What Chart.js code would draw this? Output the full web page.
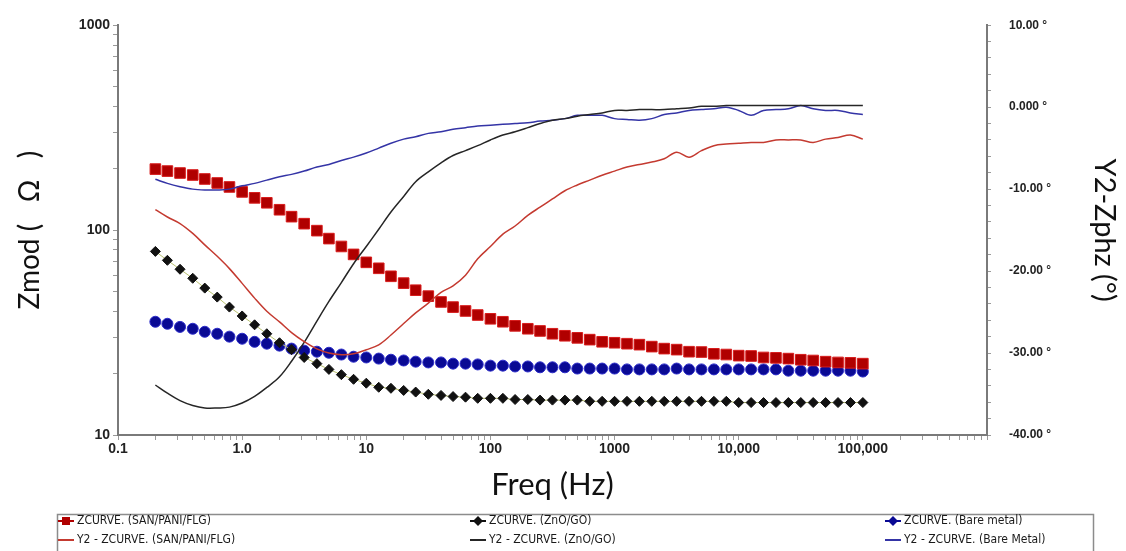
<!DOCTYPE html>
<html>
<head>
<meta charset="utf-8">
<script src="https://cdn.jsdelivr.net/npm/chart.js@4.4.1/dist/chart.umd.min.js"></script>
<style>
  html, body { margin: 0; padding: 0; background: #fff; }
  #wrap { width: 1126px; height: 551px; position: relative; }
</style>
</head>
<body>
<div id="wrap"><canvas id="bode"></canvas></div>
<script>
// sweep frequencies (Hz), 10 points per decade
const freqHz = [
  0.2, 0.25, 0.316, 0.4, 0.5, 0.63, 0.79,
  1, 1.26, 1.58, 2, 2.5, 3.16, 4, 5, 6.3, 7.9,
  10, 12.6, 15.8, 20, 25, 31.6, 40, 50, 63, 79,
  100, 126, 158, 200, 251, 316, 398, 501, 631, 794,
  1000, 1259, 1585, 1995, 2512, 3162, 3981, 5012, 6310, 7943,
  10000, 12589, 15849, 19953, 25119, 31623, 39811, 50119, 63096, 79433,
  100000
];

// |Z| (ohm)
const zmodSan = [198.5, 194.1, 189.9, 185.7, 177.6, 169.8, 162.4, 153.6, 143.7, 135.9,
  125.7, 116.3, 107.5, 99.4, 90.9, 83.2, 76.1, 69.6, 65.1, 59.5,
  55.1, 50.9, 47.6, 44.6, 42.1, 40.3, 38.5, 36.9, 35.7, 34.1,
  33.0, 32.2, 31.2, 30.5, 29.8, 29.2, 28.5, 28.2, 27.9, 27.6,
  27.0, 26.4, 26.1, 25.5, 25.4, 24.9, 24.7, 24.4, 24.3, 23.9,
  23.8, 23.6, 23.3, 23.1, 22.8, 22.6, 22.5, 22.3];
const zmodZno = [78.7, 71.2, 64.4, 58.2, 52.1, 47.1, 42.1, 38.1, 34.5, 31.2,
  28.2, 26.1, 23.9, 22.3, 20.9, 19.7, 18.7, 17.9, 17.1, 16.9,
  16.5, 16.2, 15.8, 15.6, 15.4, 15.3, 15.1, 15.1, 15.1, 14.9,
  14.9, 14.8, 14.8, 14.8, 14.8, 14.6, 14.6, 14.6, 14.6, 14.6,
  14.6, 14.6, 14.6, 14.6, 14.6, 14.6, 14.6, 14.4, 14.4, 14.4,
  14.4, 14.4, 14.4, 14.4, 14.4, 14.4, 14.4, 14.4];
const zmodBare = [35.7, 34.9, 33.7, 33.0, 31.9, 31.2, 30.2, 29.5, 28.5, 27.9,
  27.3, 26.4, 25.8, 25.5, 25.2, 24.7, 24.1, 23.9, 23.6, 23.3,
  23.1, 22.8, 22.6, 22.6, 22.3, 22.3, 22.1, 21.8, 21.8, 21.6,
  21.6, 21.4, 21.4, 21.4, 21.1, 21.1, 21.1, 21.1, 20.9, 20.9,
  20.9, 20.9, 21.1, 20.9, 20.9, 20.9, 20.9, 20.9, 20.9, 20.9,
  20.9, 20.6, 20.6, 20.6, 20.6, 20.6, 20.6, 20.4];

// phase (deg)
const phaseSan = [-12.5, -13.4, -14.2, -15.4, -16.8, -18.2, -19.7, -21.5, -23.3, -24.9,
  -26.2, -27.5, -28.6, -29.5, -30.0, -30.2, -30.1, -29.6, -29.0, -27.8,
  -26.4, -25.1, -23.9, -22.6, -21.8, -20.5, -18.5, -17.0, -15.5, -14.5,
  -13.2, -12.2, -11.2, -10.2, -9.5, -8.9, -8.3, -7.8, -7.3, -7.0,
  -6.7, -6.3, -5.5, -6.1, -5.3, -4.7, -4.5, -4.4, -4.3, -4.3,
  -4.0, -4.0, -4.0, -4.3, -3.9, -3.7, -3.4, -3.9];
const phaseZno = [-33.9, -34.9, -35.8, -36.4, -36.7, -36.7, -36.6, -36.1, -35.3, -34.2,
  -32.9, -31.0, -28.7, -26.1, -23.7, -21.4, -19.1, -17.0, -14.9, -12.8,
  -10.9, -9.1, -7.9, -6.8, -5.9, -5.3, -4.7, -4.0, -3.4, -3.0,
  -2.5, -2.0, -1.6, -1.4, -1.1, -0.9, -0.7, -0.4, -0.4, -0.3,
  -0.3, -0.3, -0.2, -0.1, 0.1, 0.1, 0.2, 0.2, 0.2, 0.2,
  0.2, 0.2, 0.2, 0.2, 0.2, 0.2, 0.2, 0.2];
const phaseBare = [-8.8, -9.3, -9.7, -10.0, -10.1, -10.1, -10.0, -9.6, -9.3, -8.9,
  -8.5, -8.2, -7.8, -7.3, -7.0, -6.5, -6.1, -5.6, -5.0, -4.4,
  -3.9, -3.6, -3.2, -3.0, -2.7, -2.5, -2.3, -2.2, -2.1, -2.0,
  -1.9, -1.7, -1.6, -1.4, -1.0, -1.0, -1.0, -1.4, -1.5, -1.6,
  -1.4, -0.9, -0.7, -0.4, -0.3, -0.2, 0.0, -0.4, -1.0, -0.4,
  -0.3, -0.2, 0.2, -0.2, -0.4, -0.4, -0.7, -0.9];

const seriesNames = [
  'ZCURVE. (SAN/PANI/FLG)', 'Y2 - ZCURVE. (SAN/PANI/FLG)',
  'ZCURVE. (ZnO/GO)', 'Y2 - ZCURVE. (ZnO/GO)',
  'ZCURVE. (Bare metal)', 'Y2 - ZCURVE. (Bare Metal)'
];

const xTickValues = [0.1, 1, 10, 100, 1000, 10000, 100000];
const xTickLabels = ['0.1', '1.0', '10', '100', '1000', '10,000', '100,000'];
const zTickValues = [10, 100, 1000];
const zTickLabels = ['10', '100', '1000'];
const phaseTickValues = [-40, -30, -20, -10, 0, 10];
const phaseTickLabels = ['-40.00 °', '-30.00 °', '-20.00 °', '-10.00 °', '0.000 °', '10.00 °'];

const tickFont = { family: "'Liberation Sans', Arial, sans-serif", size: 14, weight: 'bold' };
const titleFamily = "Lato, 'Open Sans', sans-serif";

function pts(vals) {
  return freqHz.map((f, i) => ({ x: f, y: vals[i] }));
}

function labelFor(v, values, labels) {
  for (let i = 0; i < values.length; i++) {
    if (Math.abs(v - values[i]) <= Math.abs(values[i]) * 1e-6 + 1e-9) return labels[i];
  }
  return '';
}

// 1..9 x 10^n ticks between lo and hi
function decadeTicks(lo, hi) {
  const out = [];
  for (let e = Math.round(Math.log10(lo)); e <= Math.round(Math.log10(hi)); e++) {
    for (let m = 1; m <= 9; m++) {
      const v = Number((m * Math.pow(10, e)).toPrecision(6));
      if (v >= lo && v <= hi) out.push({ value: v });
    }
  }
  return out;
}

// legend in a framed box below the axis title, three columns
const boxLegend = {
  id: 'boxLegend',
  afterDraw(chart) {
    const ctx = chart.ctx;
    ctx.save();
    ctx.strokeStyle = '#8c8c8c';
    ctx.lineWidth = 1.5;
    ctx.strokeRect(57.5, 514.5, 1036, 60);
    const cols = [66, 478, 893];
    const rows = [521, 540];
    ctx.font = "12px 'Liberation Sans Narrow', 'DejaVu Sans Condensed', sans-serif";
    ctx.textBaseline = 'middle';
    chart.data.datasets.forEach((ds, i) => {
      const cx = cols[Math.floor(i / 2)];
      const cy = rows[i % 2];
      const isZ = i % 2 === 0;
      ctx.strokeStyle = isZ ? ds.pointBackgroundColor : ds.borderColor;
      ctx.lineWidth = 2;
      ctx.beginPath();
      ctx.moveTo(cx - 8, cy);
      ctx.lineTo(cx + 8, cy);
      ctx.stroke();
      if (isZ) {
        ctx.fillStyle = ds.pointBackgroundColor;
        ctx.beginPath();
        if (ds.pointStyle === 'rect') {
          ctx.rect(cx - 4, cy - 4, 8, 8);
        } else {
          ctx.moveTo(cx, cy - 5); ctx.lineTo(cx + 5, cy); ctx.lineTo(cx, cy + 5); ctx.lineTo(cx - 5, cy);
          ctx.closePath();
        }
        ctx.fill();
      }
      ctx.fillStyle = '#1a1a1a';
      ctx.fillText(ds.label, cx + 11, cy);
    });
    ctx.restore();
  }
};

const chart = new Chart(document.getElementById('bode'), {
  type: 'line',
  data: {
    datasets: [
      {
        label: seriesNames[0], data: pts(zmodSan), yAxisID: 'y', showLine: false,
        pointStyle: 'rect', pointRadius: 7.5, pointBackgroundColor: '#b00000',
        pointBorderColor: '#d81c1c', pointBorderWidth: 1, borderColor: '#b00000', order: 2
      },
      {
        label: seriesNames[1], data: pts(phaseSan), yAxisID: 'y1',
        borderColor: '#c43a30', borderWidth: 1.5, pointRadius: 0, tension: 0.35, order: 0
      },
      {
        label: seriesNames[2], data: pts(zmodZno), yAxisID: 'y',
        borderColor: '#b9c070', borderWidth: 1,
        pointStyle: 'rectRot', pointRadius: 5, pointBackgroundColor: '#111',
        pointBorderColor: '#111', pointBorderWidth: 1, order: 2
      },
      {
        label: seriesNames[3], data: pts(phaseZno), yAxisID: 'y1',
        borderColor: '#262626', borderWidth: 1.5, pointRadius: 0, tension: 0.35, order: 0
      },
      {
        label: seriesNames[4], data: pts(zmodBare), yAxisID: 'y', showLine: false,
        pointStyle: 'circle', pointRadius: 5.5, pointBackgroundColor: '#0a0a94',
        pointBorderColor: '#2b2bc8', pointBorderWidth: 1, borderColor: '#0a0a94', order: 2
      },
      {
        label: seriesNames[5], data: pts(phaseBare), yAxisID: 'y1',
        borderColor: '#3434a6', borderWidth: 1.5, pointRadius: 0, tension: 0.35, order: 0
      }
    ]
  },
  options: {
    responsive: true,
    maintainAspectRatio: false,
    animation: false,
    layout: { padding: { top: 22, bottom: 46, left: 0, right: 0 } },
    plugins: { legend: { display: false }, tooltip: { enabled: false } },
    scales: {
      x: {
        type: 'logarithmic', min: 0.1, max: 1000000,
        afterBuildTicks(s) { s.ticks = decadeTicks(0.1, 1000000); },
        afterFit(s) { s.height = 70; },
        grid: { drawOnChartArea: false, tickLength: 5, color: '#9a9a9a' },
        border: { color: '#7a7a7a', width: 2 },
        ticks: {
          autoSkip: false, maxRotation: 0, padding: 1, color: '#222', font: tickFont,
          callback: (v) => labelFor(v, xTickValues, xTickLabels)
        },
        title: {
          display: true, text: 'Freq (Hz)', color: '#111',
          font: { family: titleFamily, size: 31 }, padding: { top: 0, bottom: 1 }
        }
      },
      y: {
        type: 'logarithmic', position: 'left', min: 10, max: 1000,
        afterBuildTicks(s) { s.ticks = decadeTicks(10, 1000); },
        afterFit(s) { s.width = 118; },
        grid: { drawOnChartArea: false, tickLength: 5, color: '#9a9a9a' },
        border: { color: '#7a7a7a', width: 2 },
        ticks: {
          autoSkip: false, padding: 3, color: '#222', font: tickFont,
          callback: (v) => labelFor(v, zTickValues, zTickLabels)
        },
        title: {
          display: true, text: 'Zmod (   Ω   )', color: '#111',
          font: { family: titleFamily, size: 28 }, padding: { top: 13, bottom: 0 }
        }
      },
      y1: {
        type: 'linear', position: 'right', min: -40, max: 10,
        afterBuildTicks(s) {
          const t = [];
          for (let v = -40; v <= 10; v += 2) t.push({ value: v });
          s.ticks = t;
        },
        afterFit(s) { s.width = 139; },
        grid: { drawOnChartArea: false, tickLength: 4, color: '#9a9a9a' },
        border: { color: '#7a7a7a', width: 2 },
        ticks: {
          autoSkip: false, padding: 18, color: '#222',
          font: { family: tickFont.family, size: 12, weight: 'bold' },
          callback: (v) => labelFor(v, phaseTickValues, phaseTickLabels)
        },
        title: {
          display: true, text: 'Y2-Zphz (°)', color: '#111',
          font: { family: titleFamily, size: 29 }, padding: { top: 4, bottom: 0 }
        }
      }
    }
  },
  plugins: [boxLegend]
});
</script>
</body>
</html>
